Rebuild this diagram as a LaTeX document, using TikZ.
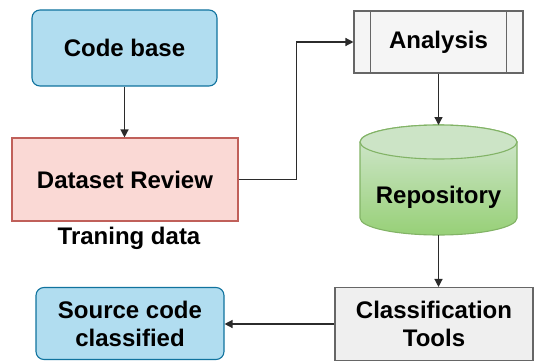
\documentclass[tikz,border=0pt]{standalone}
\usepackage{fontspec}
\setmainfont{Liberation Sans}
\usetikzlibrary{arrows.meta,calc}

\definecolor{blueFill}{HTML}{B1DDF0}
\definecolor{blueLine}{HTML}{10739E}
\definecolor{redFill}{HTML}{FAD9D5}
\definecolor{redLine}{HTML}{C0605A}
\definecolor{grayFill}{HTML}{F5F5F5}
\definecolor{grayFillB}{HTML}{EFEFEF}
\definecolor{grayLine}{HTML}{666666}
\definecolor{greenTop}{HTML}{D5E8D4}
\definecolor{greenBot}{HTML}{97D077}
\definecolor{greenLine}{HTML}{82B366}
\definecolor{arrowCol}{HTML}{2B2B2B}

\tikzset{
  lbl/.style={font=\fontsize{24}{28}\selectfont\bfseries, text=black, align=center},
  box/.style={lbl, draw, line width=1.1pt, inner sep=0pt},
  bluebox/.style={box, fill=blueFill, draw=blueLine, rounded corners=8pt},
  redbox/.style={box, fill=redFill, draw=redLine},
  graybox/.style={box, fill=grayFill, draw=grayLine},
  arr/.style={draw=arrowCol, line width=1.3pt, -{Triangle[length=8pt,width=8pt]}},
}

\begin{document}
\begin{tikzpicture}[x=1pt,y=1pt]
\useasboundingbox (0,0) rectangle (534,-361);

% process boxes
\node[bluebox, minimum width=185pt, minimum height=76pt] (code) at (124.5,-48) {Code base};
\node[redbox, minimum width=226pt, minimum height=83pt] (review) at (125,-179.5) {Dataset Review};
\node[lbl] (train) at (129,-238) {Traning data};
\node[graybox, minimum width=169pt, minimum height=62pt] (analysis) at (438.5,-42) {Analysis};
\draw[grayLine, line width=1.1pt]
  ([xshift=17pt]analysis.north west) -- ([xshift=17pt]analysis.south west)
  ([xshift=-17pt]analysis.north east) -- ([xshift=-17pt]analysis.south east);
\node[box, fill=grayFillB, draw=grayLine, minimum width=198pt, minimum height=73pt] (class) at (434,-324) {Classification\\Tools};
\node[bluebox, minimum width=188pt, minimum height=72pt] (src) at (130,-323.5) {Source code\\classified};

% database cylinder
\coordinate (repotop) at (438.5,-125);
\coordinate (repobot) at (438.5,-235);
\path[draw=greenLine, line width=1.1pt, top color=greenTop, bottom color=greenBot]
  (360,-142) -- (360,-218) arc (180:360:78.5 and 17) -- (517,-142)
  arc (0:180:78.5 and 17) -- cycle;
\path[draw=greenLine, line width=1.1pt, fill=greenTop!85!greenBot]
  (438.5,-142) ellipse (78.5 and 17);
\node[lbl] (repo) at (438.5,-197) {Repository};

% connectors
\draw[arr] (code.south) -- (code.south |- review.north);
\draw[arr] (review.east) -- ++(58,0) |- (analysis.west);
\draw[arr] (analysis.south) -- (repotop);
\draw[arr] (repobot) -- (repobot |- class.north);
\draw[arr] (class.west) -- (class.west -| src.east);
\end{tikzpicture}
\end{document}
